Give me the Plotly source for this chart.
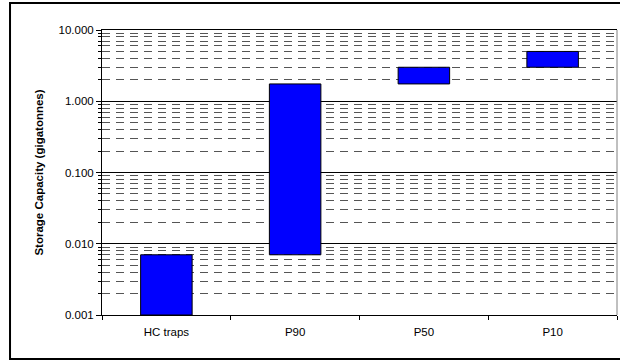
import plotly.graph_objects as go

categories = ["HC traps", "P90", "P50", "P10"]
bar_bottom = [0.001, 0.007, 1.75, 3.0]
bar_top = [0.007, 1.75, 3.0, 5.0]
major_ticks = [0.001, 0.01, 0.1, 1, 10]
major_labels = ["0.001", "0.010", "0.100", "1.000", "10.000"]
minor_ticks = [m * d for d in [0.001, 0.01, 0.1, 1] for m in range(2, 10)]
y_title = "Storage Capacity (gigatonnes)"

FONT = "Liberation Sans, Arial, sans-serif"

fig = go.Figure()
fig.add_trace(go.Bar(
    x=categories,
    y=[t - b for t, b in zip(bar_top, bar_bottom)],
    base=bar_bottom,
    marker=dict(color="#0000FF", line=dict(color="#000000", width=1)),
    width=0.4,
    hoverinfo="skip",
))

fig.update_layout(
    width=620, height=361,
    margin=dict(l=102, r=3, t=30, b=46),
    paper_bgcolor="white", plot_bgcolor="white",
    showlegend=False,
    font=dict(family=FONT, size=11.5, color="#000000"),
    xaxis=dict(
        type="category",
        showline=True, linecolor="#000000", linewidth=1, mirror=True,
        ticks="outside", tickson="boundaries", ticklen=4, tickcolor="#000000",
        showgrid=False,
        tickfont=dict(family=FONT, size=11.5),
        ticklabelstandoff=6,
        range=[-0.5, 3.5],
    ),
    yaxis=dict(
        type="log",
        range=[-3, 1],
        tickmode="array", tickvals=major_ticks, ticktext=major_labels,
        showline=True, linecolor="#000000", linewidth=1, mirror=False,
        ticks="outside", ticklen=5, tickcolor="#000000",
        showgrid=True, gridcolor="#000000", gridwidth=1,
        zeroline=False,
        tickfont=dict(family=FONT, size=11.5),
        title=dict(text="<b>" + y_title + "</b>", font=dict(family=FONT, size=11.5), standoff=12),
        minor=dict(
            tickmode="array", tickvals=minor_ticks,
            ticks="outside", ticklen=3, tickcolor="#000000",
            showgrid=True, gridcolor="#555555", griddash="8px,6px", gridwidth=1,
        ),
    ),
    shapes=[
        dict(type="line", xref="paper", yref="paper", x0=1, x1=1, y0=0, y1=1,
             line=dict(color="#808080", width=1), layer="above"),
        dict(type="rect", xref="paper", yref="paper",
             x0=-0.1786, x1=1.02, y0=-0.1544, y1=1.0947,
             line=dict(color="#000000", width=2), layer="above"),
    ],
)

fig.write_html(
    "out.html",
    config={"displayModeBar": False},
    post_script="document.body.style.margin='0';document.body.style.overflow='hidden';",
)
